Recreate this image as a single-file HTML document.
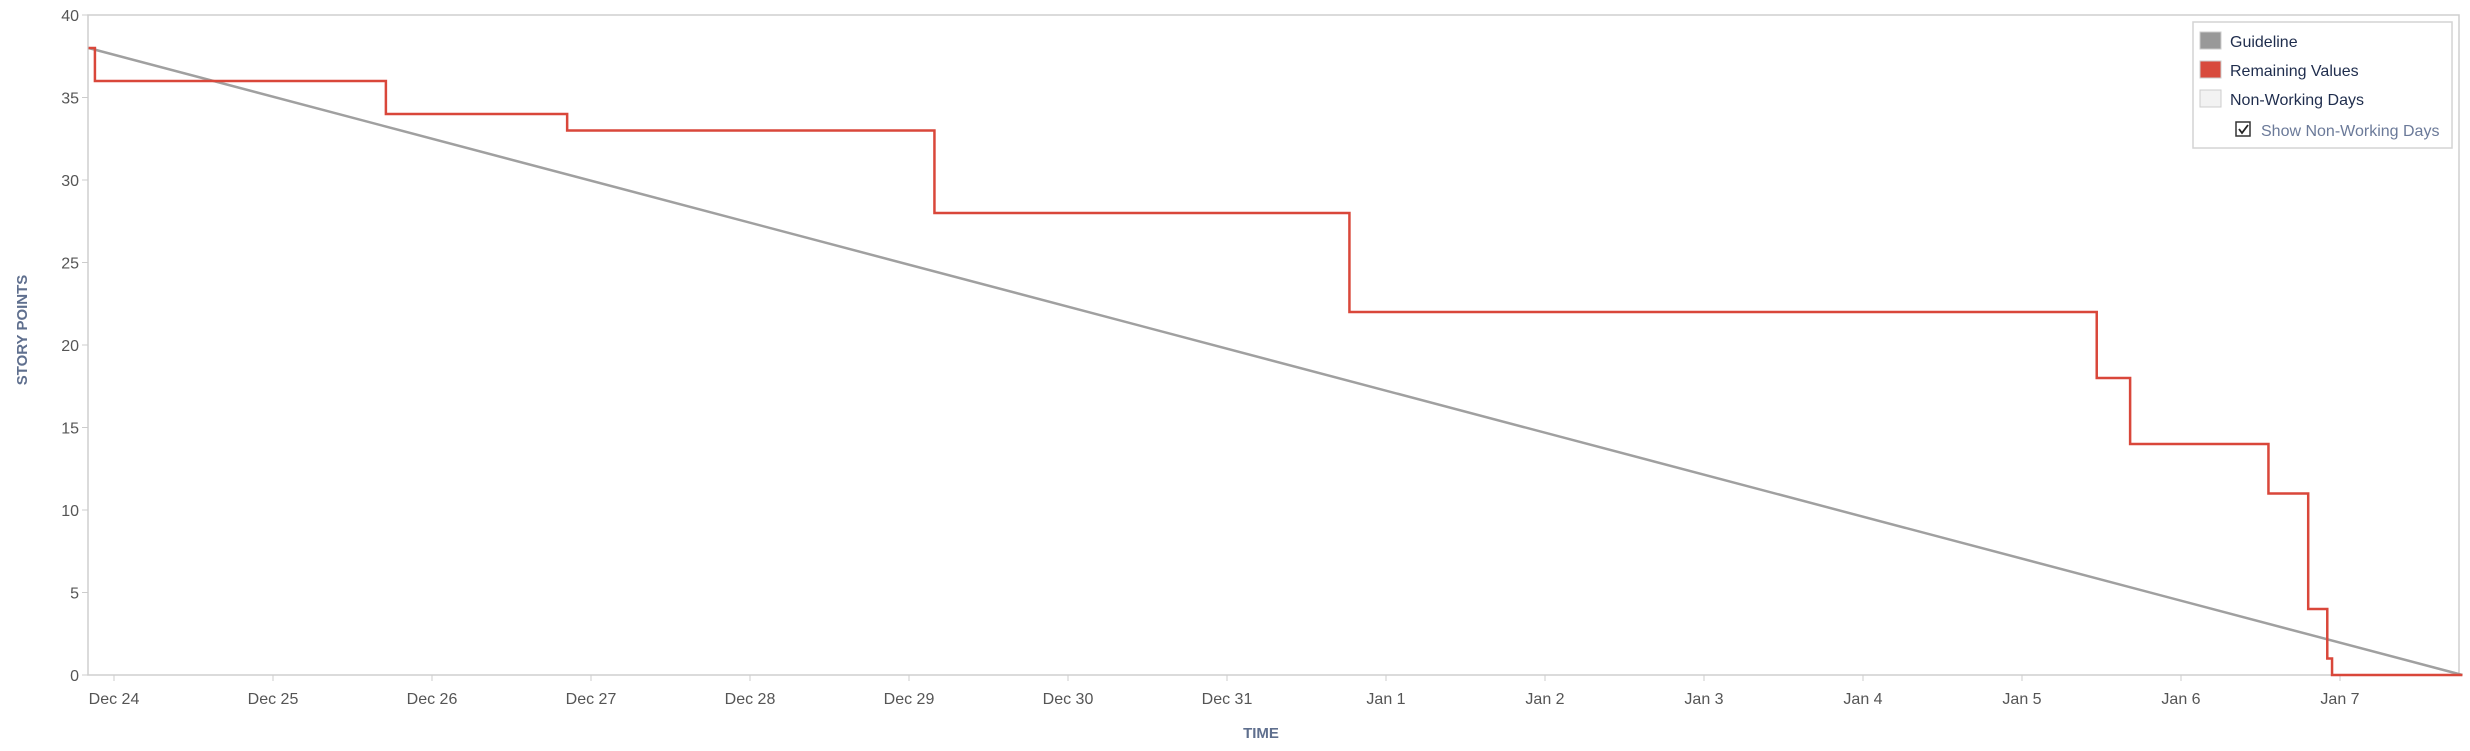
<!DOCTYPE html>
<html><head><meta charset="utf-8"><style>
body{margin:0;background:#fff;width:2470px;height:746px;overflow:hidden;font-family:"Liberation Sans",sans-serif}
</style></head><body>
<svg id="chart" width="2470" height="746" xmlns="http://www.w3.org/2000/svg" font-family="Liberation Sans, sans-serif">
<g id="axes"></g>
<g id="marks"></g>
<text transform="translate(27,330) rotate(-90)" text-anchor="middle" font-size="15" font-weight="bold" fill="#5f6f8e">STORY POINTS</text>
<text x="1261" y="738" text-anchor="middle" font-size="15" font-weight="bold" fill="#5f6f8e">TIME</text>
<g>
<rect x="2193" y="22" width="259" height="126" fill="#fff" stroke="#d4d4d4" stroke-width="1.5"/>
<g><rect x="2200" y="32" width="21" height="17" fill="#999" stroke="#ccc"/><text x="2230" y="47" font-size="16" fill="#1f2d4d">Guideline</text></g>
<g><rect x="2200" y="61" width="21" height="17" fill="#d84a3c" stroke="#ccc"/><text x="2230" y="76" font-size="16" fill="#1f2d4d">Remaining Values</text></g>
<g><rect x="2200" y="90" width="21" height="17" fill="#f2f2f2" stroke="#ccc"/><text x="2230" y="105" font-size="16" fill="#1f2d4d">Non-Working Days</text></g>
<g><rect x="2236" y="122" width="14" height="14" fill="#fff" stroke="#333" stroke-width="1.5"/><path d="M2239 129 l3 4 l6 -8" fill="none" stroke="#222" stroke-width="1.8"/><text x="2261" y="136" font-size="16" fill="#6b7a99">Show Non-Working Days</text></g>
</g>
</svg>
<script>
const xTicks=["Dec 24","Dec 25","Dec 26","Dec 27","Dec 28","Dec 29","Dec 30","Dec 31","Jan 1","Jan 2","Jan 3","Jan 4","Jan 5","Jan 6","Jan 7"];
const yTicks=[0,5,10,15,20,25,30,35,40];
const stepDays=[-0.16,-0.12,1.71,2.85,5.16,7.77,12.47,12.68,13.55,13.80,13.92,13.95,14.77];
const stepValues=[38,36,34,33,28,22,18,14,11,4,1,0,0];
const guideStart=[-0.16,38];
const guideEnd=[14.77,0];
const L=88,R=2459,T=15,B=675,X0=114,DAY=159;
const X=d=>X0+d*DAY, Y=v=>B-(v/40)*(B-T);
const NS="http://www.w3.org/2000/svg";
function mk(tag,attrs,parent,txt){const e=document.createElementNS(NS,tag);for(const k in attrs)e.setAttribute(k,attrs[k]);if(txt!=null)e.textContent=txt;parent.appendChild(e);return e;}
const ax=document.getElementById('axes'),mg=document.getElementById('marks');
const frame=mk('rect',{x:L,y:T,width:R-L,height:B-T,fill:'none',stroke:'#cfcfcf','stroke-width':1.5},ax);


yTicks.forEach(v=>{
 const t=mk('line',{x1:L-6,x2:L,y1:Y(v),y2:Y(v),stroke:'#ccc'},ax);
 
 
 const l=mk('text',{x:L-9,y:Y(v)+6,'text-anchor':'end','font-size':16,fill:'#555'},ax,String(v));
 
 
});
xTicks.forEach((s,i)=>{
 const t=mk('line',{x1:X(i),x2:X(i),y1:B,y2:B+6,stroke:'#ccc'},ax);
 
 
 const l=mk('text',{x:X(i),y:B+29,'text-anchor':'middle','font-size':16,fill:'#555'},ax,s);
 
 
});
const g=mk('line',{x1:X(guideStart[0]),y1:Y(guideStart[1]),x2:X(guideEnd[0]),y2:Y(guideEnd[1]),stroke:'#a0a0a0','stroke-width':2.5},mg);


let d='';
stepDays.forEach((dd,i)=>{
 if(i===0){d+=`M${X(dd)},${Y(stepValues[0])}`;}
 else{d+=` H${X(dd)} V${Y(stepValues[i])}`;}
});
const p=mk('path',{d:d,fill:'none',stroke:'#d9473a','stroke-width':2.5},mg);


</script>
</body></html>
